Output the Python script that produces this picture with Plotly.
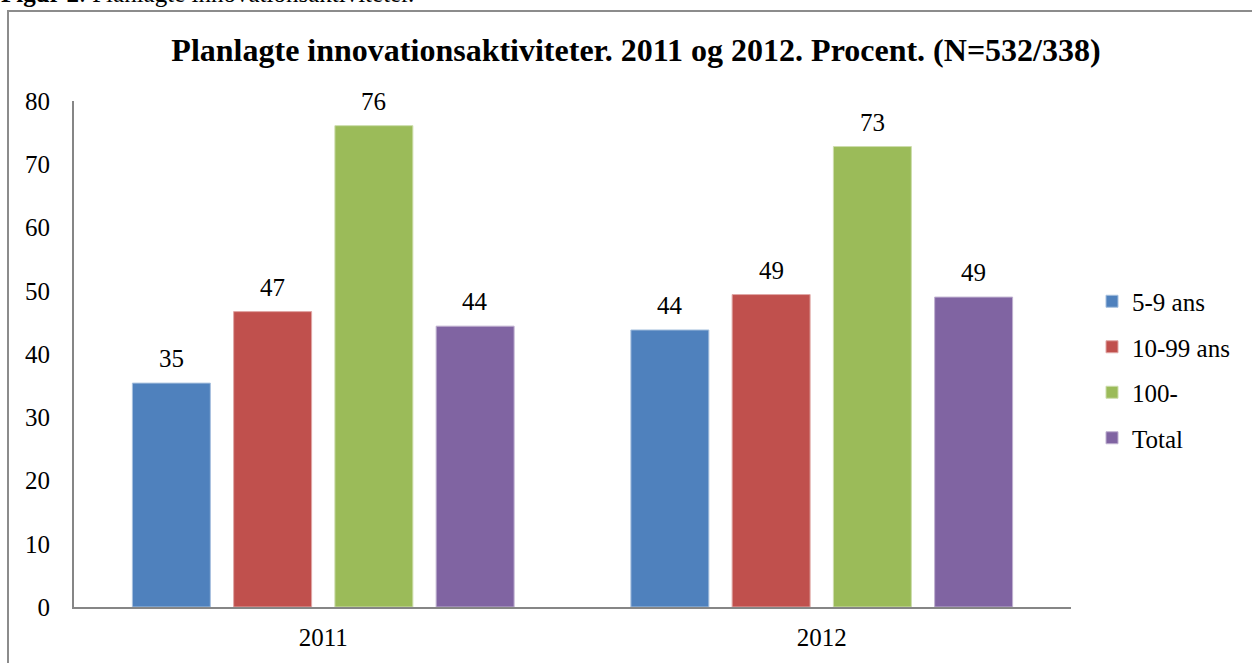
import plotly.graph_objects as go

years = ["2011", "2012"]
series_names = ["5-9 ans", "10-99 ans", "100-", "Total"]
values_59 = [35.4, 43.8]
values_1099 = [46.7, 49.4]
values_100 = [76.1, 72.8]
values_total = [44.4, 49.0]
colors = ["#4F81BD", "#C0504D", "#9BBB59", "#8064A2"]
line_colors = ["#A7C0DE", "#E0A7A6", "#CDDDAC", "#BFB1D0"]
y_ticks = [0, 10, 20, 30, 40, 50, 60, 70, 80]

all_values = [values_59, values_1099, values_100, values_total]

FONT = "Liberation Serif, Times New Roman, serif"
W, H = 1252, 663
ML, MR, MT, MB = 74, 181, 101, 56
PW = W - ML - MR
PH = H - MT - MB
BARGAP = 0.1875
BARGROUPGAP = 0.23

fig = go.Figure()
for name, vals, c, lc in zip(series_names, all_values, colors, line_colors):
    fig.add_trace(go.Bar(
        x=years, y=vals, name=name,
        marker=dict(color=c, line=dict(color=lc, width=1)),
        legendgroup=name,
    ))

# data labels (category axis: annotations use category serial numbers)
cat_px = PW / len(years)
slot = cat_px * (1 - BARGAP) / len(series_names)
for i, vals in enumerate(all_values):
    for j, v in enumerate(vals):
        fig.add_annotation(
            x=j, y=v, xref="x", yref="y",
            text=f"{v:.0f}", showarrow=False,
            xshift=(i - (len(series_names) - 1) / 2) * slot,
            yanchor="bottom", yshift=9,
            font=dict(family=FONT, size=25, color="#000000"),
        )

# figure caption (cut off at the top)
fig.add_annotation(
    x=(-1 - ML) / PW, y=(PH + MT - 9) / PH, xref="paper", yref="paper",
    xanchor="left", yanchor="bottom", showarrow=False,
    text="<b>Figur 2</b>: Planlagte innovationsaktiviteter.",
    font=dict(family=FONT, size=25, color="#000000"),
)

# outer chart border
fig.add_shape(
    type="rect", xref="paper", yref="paper",
    x0=(8 - ML) / PW, x1=1.3, y0=-0.3, y1=(PH + MT - 11) / PH,
    line=dict(color="#8C8C8C", width=2), fillcolor="rgba(0,0,0,0)", layer="below",
)

fig.update_layout(
    width=W, height=H,
    margin=dict(l=ML, r=MR, t=MT, b=MB, autoexpand=False),
    paper_bgcolor="white", plot_bgcolor="white",
    barmode="group", bargap=BARGAP, bargroupgap=BARGROUPGAP,
    title=dict(
        text="<b>Planlagte innovationsaktiviteter. 2011 og 2012. Procent. (N=532/338)</b>",
        x=0.508, xanchor="center", xref="container",
        y=(H - 50) / H, yanchor="middle", yref="container",
        font=dict(family=FONT, size=32, color="#000000"),
    ),
    font=dict(family=FONT, size=25, color="#000000"),
    legend=dict(
        x=(1092 - ML) / PW, xanchor="left", y=(H - MB - 369.5) / PH, yanchor="middle",
        font=dict(family=FONT, size=25, color="#000000"),
        traceorder="grouped", tracegroupgap=10,
        bgcolor="rgba(0,0,0,0)",
    ),
    showlegend=True,
)
fig.update_xaxes(
    type="category", range=[-0.5, len(years) - 0.5],
    showline=True, linecolor="#868686", linewidth=2,
    showgrid=False, ticks="", ticklabelstandoff=7,
    tickfont=dict(family=FONT, size=25, color="#000000"),
)
fig.update_yaxes(
    range=[0, 80], tickvals=y_ticks,
    showline=True, linecolor="#868686", linewidth=2,
    showgrid=False, zeroline=False, ticks="", ticklabelstandoff=17,
    tickfont=dict(family=FONT, size=25, color="#000000"),
)

fig.write_html("out.html", config={"displayModeBar": False},
               post_script="document.body.style.margin='0';")
